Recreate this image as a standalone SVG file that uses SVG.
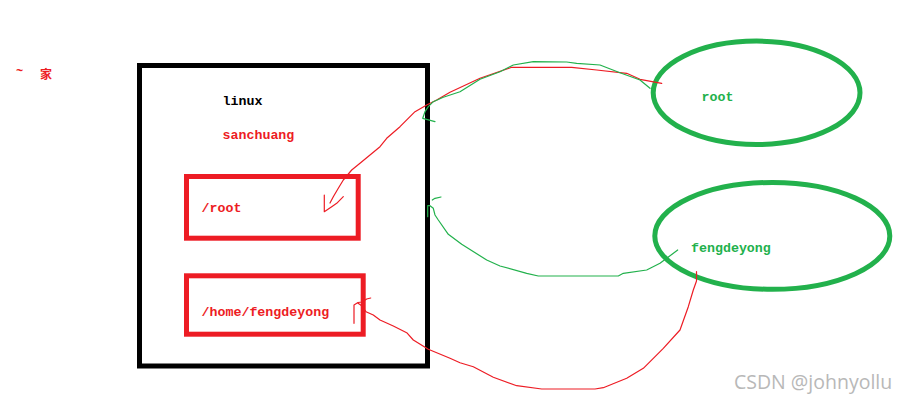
<svg xmlns="http://www.w3.org/2000/svg" width="905" height="402" viewBox="0 0 905 402">
<style>
.lbl{font-family:"Liberation Mono","DejaVu Sans Mono",monospace;font-weight:bold;font-size:13.3px}
.red{fill:#ED1C24}
.grn{fill:#22B14C}
.blk{fill:#000}
.box{fill:none;stroke:#ED1C24;stroke-width:5}
.ell{fill:none;stroke:#22B14C;stroke-width:5}
.rl{fill:none;stroke:#ED1C24;stroke-width:1.2;stroke-linejoin:round;stroke-linecap:round}
.gl{fill:none;stroke:#22B14C;stroke-width:1.2;stroke-linejoin:round;stroke-linecap:round}
</style>
<rect width="905" height="402" fill="#fff"/>
<text class="red" x="16" y="79" style="font-family:'Liberation Mono','Noto Sans CJK SC',monospace;font-size:12px;font-weight:bold"><tspan dy="-4">~</tspan><tspan x="40" dy="4">家</tspan></text>
<g id="linux">
<rect x="139.5" y="65.5" width="288" height="300.5" fill="none" stroke="#000" stroke-width="5"/>
<text class="lbl blk" x="222.5" y="105">linux</text>
<text class="lbl red" x="222.5" y="139">sanchuang</text>
</g>
<g id="root-dir">
<rect class="box" x="186.5" y="176.5" width="171.7" height="61.7"/>
<text class="lbl red" x="201.5" y="212">/root</text>
</g>
<g id="home-dir">
<rect class="box" x="186.5" y="275.8" width="176.7" height="58.4"/>
<text class="lbl red" x="201.5" y="316">/home/fengdeyong</text>
</g>
<g id="root-user">
<ellipse class="ell" cx="756.6" cy="92.8" rx="103.4" ry="51.7"/>
<text class="lbl grn" x="701.5" y="101">root</text>
</g>
<g id="fengdeyong-user">
<ellipse class="ell" cx="772.3" cy="235.9" rx="117.5" ry="53.4"/>
<text class="lbl grn" x="691" y="252">fengdeyong</text>
</g>
<g id="connectors">
<path class="rl" d="M661.7,83.3 L640,79.3 L626.7,73.3 L596.7,70 L571.7,67.3 L511.7,67.3 L480,78.3 L450,92.3 L436.7,100 L426.7,105 L415,111.7 L400,126.7 L386.7,138.3 L380,146.7 L360,163.3 L351.7,170 L343.3,180 L338.3,188.3 L333.3,196.7 L330,203"/>
<path class="rl" d="M324.3,195 V211.7 L331.7,206.7 L336.7,203.3 L343.3,196.7"/>
<path class="gl" d="M650,88.3 L640,80 L620,72.7 L600,65 L576.7,63.3 L566.7,62 L533.3,61.7 L513.3,65 L500,71.7 L480,79.3 L460,91.7 L443.3,97.3 L433.3,101.7 L428.3,106.7 L425,111.7 L422.7,118.3 L435,121.7"/>
<path class="gl" d="M677.7,250 L660,263.3 L646.7,270 L623.3,273.3 L618.3,276 L538.3,276 L526.7,273.3 L500,266 L486.7,260 L461.7,244.3 L448.3,234.3 L438.3,220 L435,215 L433.3,208.3 L430,205.7 L427.7,205.7 V216.7"/>
<path class="gl" d="M432.3,200 L435,198.3 L441,197"/>
<path class="rl" d="M696.5,271.5 V281 L693.3,290 L688.3,306.7 L680,330 L663.3,348.3 L643.3,368.3 L626.7,378.3 L603.3,387.7 L595,389 L541.7,389 L516.7,385.7 L493.3,377.3 L473.3,366.7 L460,362.7 L450,358.3 L428.3,349.3 L413.3,340 L406.7,332.7 L393.3,326 L380,320 L373.3,315 L366,311.7 L360.7,305 L358,303.3"/>
<path class="rl" d="M354,323.3 V305 L358,302.5 L362,302 L366.7,299 L370.7,298"/>
</g>
<text x="734" y="389" style="font-family:'Open Sans','Noto Sans',sans-serif;font-size:19.5px;fill:#b8b8b8">CSDN @johnyollu</text>
</svg>
